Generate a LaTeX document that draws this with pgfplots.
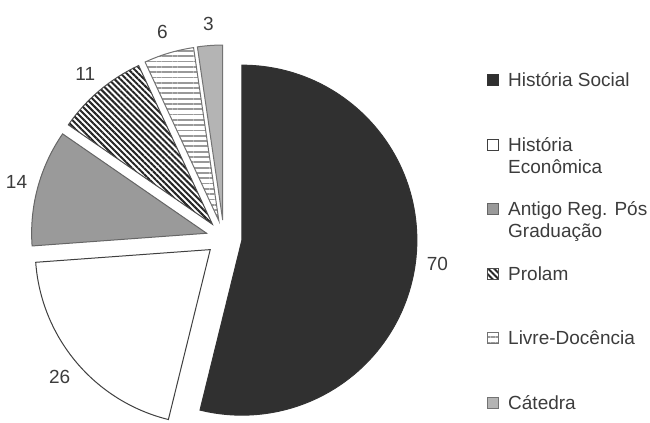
\documentclass[border=0pt]{standalone}
\usepackage{fontspec}
\setmainfont{Liberation Sans}
\usepackage{pgfplots}
\pgfplotsset{compat=1.18}
\usetikzlibrary{calc,patterns.meta}

\definecolor{txt}{HTML}{3C3C3C}
\definecolor{social}{HTML}{303030}
\definecolor{antigo}{HTML}{9A9A9A}
\definecolor{catedra}{HTML}{B4B4B4}

\tikzset{
  sA/.style={fill=social, draw=black!80, line width=1bp},
  sB/.style={fill=white, draw=black!75, line width=1bp},
  sC/.style={fill=antigo, draw=black!60, line width=1bp},
  sD/.style={pattern={Lines[angle=-45, distance=4.2bp, line width=2bp]},
             pattern color=black!85, draw=black!70, line width=1bp},
  sE/.style={pattern={Lines[angle=0, distance=5.3bp, line width=1.8bp]},
             pattern color=black!40, draw=black!55, line width=1bp},
  sF/.style={fill=catedra, draw=black!55, line width=1bp},
  lbl/.style={font=\fontsize{19bp}{23bp}\selectfont, text=txt, inner sep=0pt},
}
\newcommand\two[2]{\begin{tabular}[t]{@{}l@{}}#1\\#2\end{tabular}}

\begin{document}
\begin{tikzpicture}
  \begin{axis}[
      name=pie,
      at={(0,0)}, anchor=south west,
      scale only axis,
      width=650bp, height=422bp,
      xmin=0, xmax=650, ymin=0, ymax=422,
      hide axis, clip=false,
      legend cell align=left,
      legend image code/.code={\draw[#1] (0bp,8.5bp) rectangle (11bp,19.5bp);},
      legend style={
        at={(axis cs:487,350.5)}, anchor=north west,
        draw=none, fill=none, inner sep=0pt,
        row sep=19.5bp, column sep=9bp,
        font=\fontsize{19bp}{22bp}\selectfont, text=txt,
        nodes={inner sep=0pt, text height=15bp, text depth=30bp},
      },
    ]
    % slices clockwise from 12 o'clock, total = 130
    \pgfplotsextra{
      \gdef\cum{0}
      \foreach \v/\s in {70/sA,26/sB,14/sC,11/sD,6/sE,3/sF}{
        \pgfmathsetmacro\aS{90-\cum/130*360}
        \pgfmathsetmacro\aE{90-(\cum+\v)/130*360}
        \pgfmathsetmacro\aM{(\aS+\aE)/2}
        \coordinate (v) at ($(axis cs:224,184)+(\aM:18bp)$);
        \draw[\s] (v) -- ++(\aS:175bp)
          arc[start angle=\aS, end angle=\aE, radius=175bp] -- cycle;
        \node[lbl] at ($(axis cs:224,184)+(\aM:215bp)$) {\v};
        \pgfmathsetmacro\c{\cum+\v}
        \xdef\cum{\c}
      }
    }
    \addlegendimage{sA}
    \addlegendentry{História Social}
    \addlegendimage{sB}
    \addlegendentry{\two{História}{Econômica}}
    \addlegendimage{sC}
    \addlegendentry{\two{Antigo Reg. Pós}{Graduação}}
    \addlegendimage{sD}
    \addlegendentry{Prolam}
    \addlegendimage{sE}
    \addlegendentry{Livre-Docência}
    \addlegendimage{sF}
    \addlegendentry{Cátedra}
  \end{axis}
  \pgfresetboundingbox
  \useasboundingbox (pie.south west) rectangle (pie.north east);
\end{tikzpicture}
\end{document}
